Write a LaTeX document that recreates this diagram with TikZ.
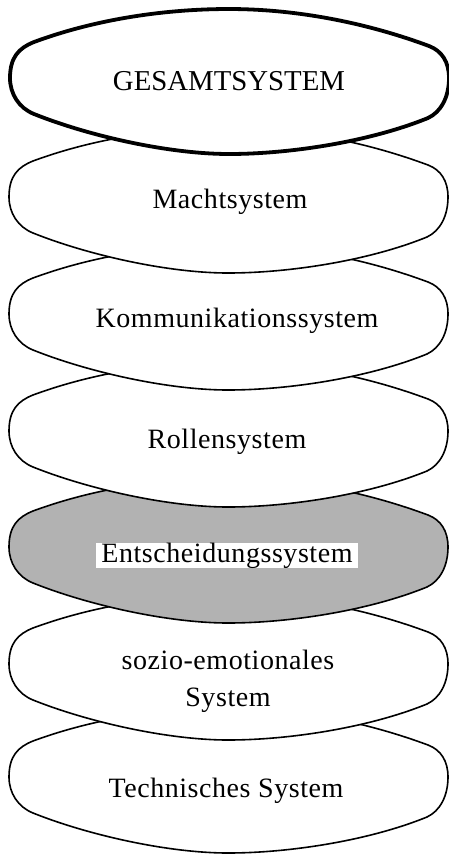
\documentclass[tikz,border=0pt]{standalone}
\usepackage{fontspec}
\setmainfont{Liberation Serif}
\newfontfamily\lblfont[LetterSpace=2]{Liberation Serif}
\begin{document}
\begin{tikzpicture}[x=0.5pt,y=-0.5pt,
  layer/.style={draw=black, fill=white, line width=0.8pt},
  toplayer/.style={draw=black, fill=white, line width=1.9pt},
  greylayer/.style={draw=black, fill=black!30, line width=0.8pt},
  lbl/.style={anchor=base, inner sep=0pt, font=\lblfont\fontsize{14}{18.5}\selectfont},
  layershape/.pic={\path[pic actions] (-219,-4)
     .. controls (-219,-25) and (-210,-34) .. (-195,-40)
     .. controls (-130,-64) and (-60,-73) .. (0,-73)
     .. controls (60,-73) and (130,-62) .. (200,-36)
     .. controls (213,-31) and (220,-20) .. (220,-4)
     .. controls (220,15) and (212,30) .. (199,36)
     .. controls (140,60) and (60,72) .. (0,72)
     .. controls (-60,72) and (-140,54) .. (-195,32)
     .. controls (-210,26) and (-219,12) .. cycle;}
]
\useasboundingbox (0,0) rectangle (449,858);
% layers from bottom to top
\pic[layer] (tech) at (228,781) {layershape};
\pic[layer] (sozio) at (228,668) {layershape};
\pic[greylayer] (ents) at (228,551) {layershape};
\pic[layer] (rollen) at (228,435) {layershape};
\pic[layer] (komm) at (228,318) {layershape};
\pic[layer] (macht) at (228,201) {layershape};
\pic[toplayer] (gesamt) at (229,82) {layershape};
% labels
\node[anchor=base, inner sep=0pt, font=\fontsize{14.4}{16}\selectfont] (tgesamt) at (229,90) {GESAMTSYSTEM};
\node[lbl] (tmacht) at (230,208) {Machtsystem};
\node[lbl] (tkomm) at (237,327) {Kommunikationssystem};
\node[lbl] (trollen) at (227,448) {Rollensystem};
\node[lbl, fill=white, inner xsep=2.5pt, text height=9.5pt, text depth=3.2pt] (tents) at (227,562) {Entscheidungssystem};
\node[lbl, anchor=center, align=center] (tsozio) at (228,681) {sozio-emotionales\\System};
\node[lbl] (ttech) at (226,797) {Technisches System};
\end{tikzpicture}
\end{document}
